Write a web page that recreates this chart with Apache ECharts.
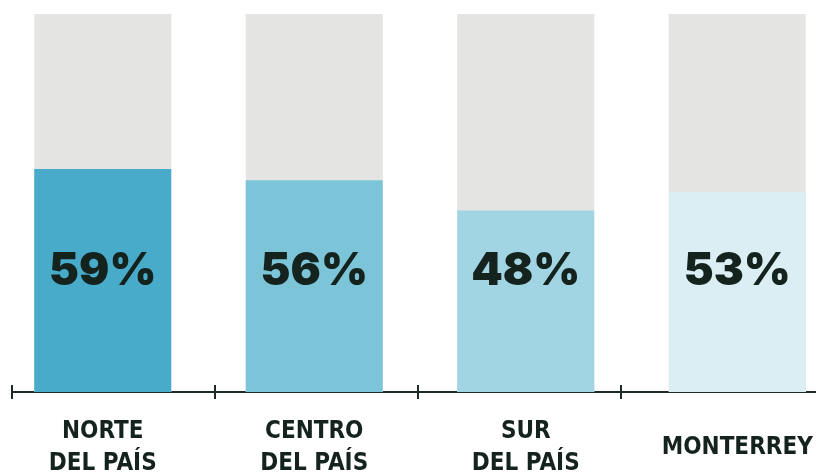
<!DOCTYPE html>
<html><head><meta charset="utf-8">
<script src="https://cdn.jsdelivr.net/npm/echarts@6/dist/echarts.min.js"></script>
<style>html,body{margin:0;padding:0;background:#fff}#c{width:816px;height:474px}</style>
</head><body><div id="c"></div>
<script>
const categories = ['NORTE\nDEL PAÍS', 'CENTRO\nDEL PAÍS', 'SUR\nDEL PAÍS', 'MONTERREY'];
const values = [59, 56, 48, 53];
const barColors = ['#47abc9', '#7cc4d8', '#a2d5e3', '#dbeef4'];
const tickSlots = ['', '', '', ''];

const chart = echarts.init(document.getElementById('c'), null, {renderer: 'canvas'});
const ink = '#15231e';
chart.setOption({
  animation: false,
  grid: [
    {left: -3, width: 846, top: 14, bottom: 82, outerBoundsMode: 'none', containLabel: false},
    {left: 12, width: 812, top: 14, bottom: 82, outerBoundsMode: 'none', containLabel: false}
  ],
  xAxis: [
    {type: 'category', gridIndex: 0, position: 'bottom', data: categories,
     axisLine: {show: false}, axisTick: {show: false},
     axisLabel: {interval: 0, margin: 56, verticalAlign: 'middle', color: ink,
       fontFamily: '"Liberation Sans Narrow","DejaVu Sans Condensed",sans-serif',
       fontWeight: 'bold', fontSize: 24, lineHeight: 32}},
    {type: 'category', gridIndex: 1, position: 'bottom', data: tickSlots, boundaryGap: true,
     axisLine: {show: true, lineStyle: {color: '#1d2a25', width: 2}},
     axisTick: {show: true, length: 7, lineStyle: {color: '#1d2a25', width: 2}},
     axisLabel: {show: false}},
    {type: 'category', gridIndex: 1, position: 'bottom', data: tickSlots, boundaryGap: true,
     axisLine: {show: false},
     axisTick: {show: true, inside: true, length: 7, lineStyle: {color: '#1d2a25', width: 2}},
     axisLabel: {show: false}}
  ],
  yAxis: [
    {type: 'value', gridIndex: 0, min: 0, max: 100, show: false},
    {type: 'value', gridIndex: 1, min: 0, max: 100, show: false}
  ],
  series: [{
    type: 'bar', xAxisIndex: 0, yAxisIndex: 0, barWidth: 137,
    showBackground: true, backgroundStyle: {color: '#e4e4e3'},
    data: values.map((v, i) => ({value: v, itemStyle: {color: barColors[i]}})),
    label: {show: true, position: 'insideBottom', distance: 98,
      formatter: '{c}%', color: ink, fontSize: 45, fontWeight: 900,
      fontFamily: 'Inter, Lato, sans-serif'}
  }]
});
</script></body></html>
